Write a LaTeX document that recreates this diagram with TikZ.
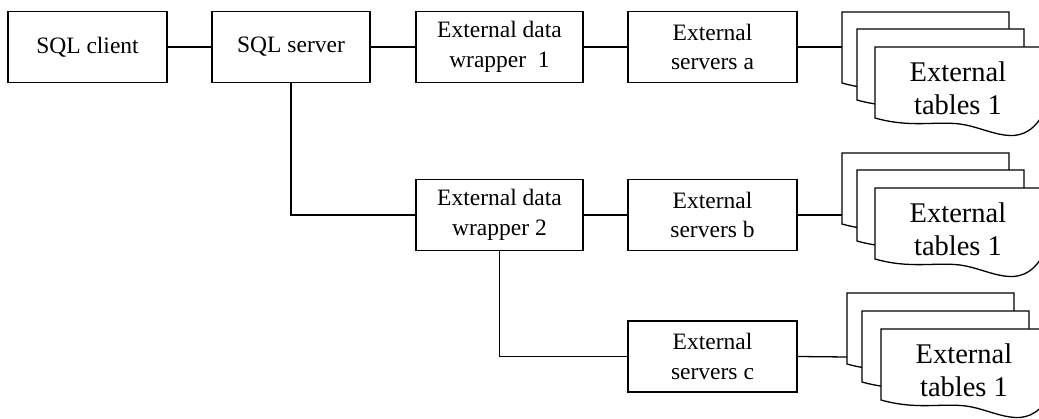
\documentclass[tikz,border=0pt]{standalone}
\usepackage{fontspec}
\setmainfont{Liberation Serif}
\newcommand\boxfont{\fontsize{23.5}{29.5}\selectfont}
\newcommand\docfont{\fontsize{28.5}{33}\selectfont}
\tikzset{
  ln/.style={line width=1.3pt, line join=miter},
  box/.style={ln, draw, fill=white, minimum width=#1, minimum height=71pt, inner sep=0pt, align=center, font=\boxfont},
  box/.default=167pt,
  doctext/.style={align=center, font=\docfont, inner sep=0pt},
}
\newcommand\docshape[2]{%
  \filldraw[ln, fill=white, shift={(#1,#2)}] (0,0) -- (167,0) -- (167,69)
    .. controls (145,105) and (115,81) .. (85,77)
    .. controls (60,74) and (35,81) .. (0,71) -- cycle;}
\begin{document}
\begin{tikzpicture}[x=1pt, y=-1pt]
\useasboundingbox (0,0) rectangle (1039,419);
% boxes
\node[box=159pt] (client) at (87.5,47) {SQL client};
\node[box=158pt] (server) at (291,47) {SQL server};
\node[box] (edw1) at (499.5,47) {External data\\wrapper\ \ 1};
\node[box=169pt] (sa) at (712.5,47) {External\\servers a};
\node[box] (edw2) at (499.5,215) {External data\\wrapper 2};
\node[box=169pt] (sb) at (712.5,215) {External\\servers b};
\node[box=169pt] (sc) at (712.5,356.5) {External\\servers c};
% document stacks
\docshape{842}{12}\docshape{857}{29}\docshape{875}{47}
\node[doctext] (t1) at (958,88) {External\\tables 1};
\docshape{842}{153}\docshape{857}{170}\docshape{875}{188}
\node[doctext] (t2) at (958,229) {External\\tables 1};
\docshape{847}{293}\docshape{862}{311}\docshape{881}{329}
\node[doctext] (t3) at (964,370) {External\\tables 1};
\coordinate (d1) at (842,47);
\coordinate (d2) at (842,215);
\coordinate (d3) at (847,357);
% connectors
\draw[ln] (client.east) -- (server.west);
\draw[ln] (server.east) -- (edw1.west);
\draw[ln] (edw1.east) -- (sa.west);
\draw[ln] (sa.east) -- (d1);
\draw[ln] (server.south) |- (edw2.west);
\draw[ln] (edw2.east) -- (sb.west);
\draw[ln] (sb.east) -- (d2);
\draw[ln] (edw2.south) |- (sc.west);
\draw[ln] (sc.east) -- (d3);
\end{tikzpicture}
\end{document}
